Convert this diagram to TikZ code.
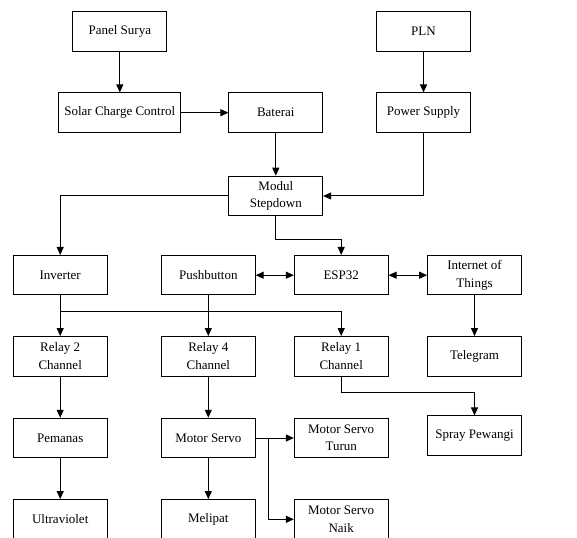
\documentclass[tikz,border=0pt]{standalone}
\usepackage{fontspec}
\setmainfont{Liberation Serif}
\usetikzlibrary{arrows.meta}

\tikzstyle{block}=[draw,rectangle,line width=1pt,minimum width=93.7pt,minimum height=39.5pt,align=center,inner sep=2pt,font=\fontsize{13}{17.5}\selectfont]
\tikzstyle{line}=[line width=1pt,-{Triangle[length=8pt,width=7pt]}]
\tikzstyle{both}=[line width=1pt,{Triangle[length=8pt,width=7pt]}-{Triangle[length=8pt,width=7pt]}]

\begin{document}
\begin{tikzpicture}[x=1pt,y=-1pt]
    \useasboundingbox (0,0) rectangle (577,537);

    \node[block] (surya) at (119.8,31.3) {Panel Surya};
    \node[block] (pln) at (423.5,31.3) {PLN};
    \node[block,minimum width=122.3pt] (scc) at (119.8,112.7) {Solar Charge Control};
    \node[block] (baterai) at (275.8,112.7) {Baterai};
    \node[block] (psu) at (423.5,112.7) {Power Supply};
    \node[block] (modul) at (275.8,196) {Modul\\Stepdown};
    \node[block] (inv) at (60.2,275.2) {Inverter};
    \node[block] (push) at (208.3,275.2) {Pushbutton};
    \node[block] (esp) at (341.2,275.2) {ESP32};
    \node[block] (iot) at (474.5,275.2) {Internet of\\Things};
    \node[block] (rel2) at (60.2,356.3) {Relay 2\\Channel};
    \node[block] (rel4) at (208.3,356.3) {Relay 4\\Channel};
    \node[block] (rel1) at (341.2,356.3) {Relay 1\\Channel};
    \node[block] (tele) at (474.5,356.3) {Telegram};
    \node[block] (spray) at (474.5,435.7) {Spray Pewangi};
    \node[block] (pemanas) at (60.2,438) {Pemanas};
    \node[block] (servo) at (208.3,438) {Motor Servo};
    \node[block] (turun) at (341.2,438) {Motor Servo\\Turun};
    \node[block] (uv) at (60.2,519.3) {Ultraviolet};
    \node[block] (lipat) at (208.3,519.3) {Melipat};
    \node[block] (naik) at (341.2,519.3) {Motor Servo\\Naik};

    % sumber daya
    \draw[line] (surya) -- (scc);
    \draw[line] (scc) -- (baterai);
    \draw[line] (pln) -- (psu);
    \draw[line] (baterai) -- (modul);
    \draw[line] (psu.south) |- (modul.east);
    \draw[line] (modul.west) -| (inv.north);
    \draw[line] (modul.south) -- ++(0,23) -| (esp.north);

    % kontrol
    \draw[both] (push) -- (esp);
    \draw[both] (esp) -- (iot);
    \draw[line] (iot) -- (tele);
    \draw[line] (inv) -- (rel2);
    \draw[line] (inv.south) -- ++(0,15.7) -| (rel1.north);
    \draw[line] (push) -- (rel4);
    \draw[line] (rel1.south) -- ++(0,16.3) -| (spray.north);

    % aktuator
    \draw[line] (rel2) -- (pemanas);
    \draw[line] (pemanas) -- (uv);
    \draw[line] (rel4) -- (servo);
    \draw[line] (servo) -- (lipat);
    \draw[line] (servo) -- (turun);
    \draw[line] (servo.east) -- ++(13,0) |- (naik.west);

\end{tikzpicture}
\end{document}
